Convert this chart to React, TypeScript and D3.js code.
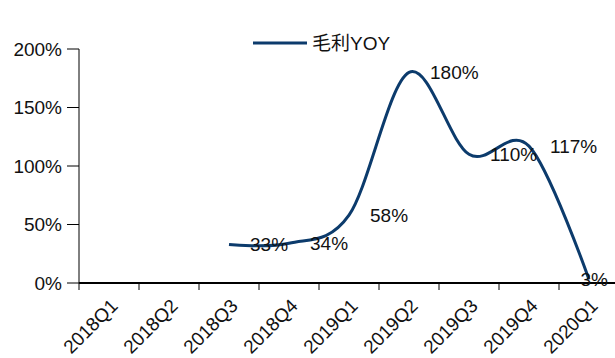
import React from 'react';
import * as d3 from 'd3';

// quarters on the x axis
const quarters: string[] = ['2018Q1', '2018Q2', '2018Q3', '2018Q4', '2019Q1', '2019Q2', '2019Q3', '2019Q4', '2020Q1'];
// gross profit YoY, % (no value for the first two quarters)
const grossYoy: (number | null)[] = [null, null, 33, 34, 58, 180, 110, 117, 3];
const yTicks: number[] = [0, 50, 100, 150, 200];
const seriesName = '毛利YOY';

const W = 615;
const H = 358;
const navy = '#0c3b6c';
const ink = '#111';
const font = '"Liberation Sans", Arial, "Noto Sans CJK SC", sans-serif';

const App: React.FC = () => {
	const margin = { top: 49, left: 79, bottom: 75 };
	const x = d3.scaleBand<string>().domain(quarters).range([margin.left, margin.left + 540]).padding(0);
	const y = d3.scaleLinear().domain([0, 200]).range([H - margin.bottom, margin.top]);
	const cx = (q: string) => (x(q) as number) + x.bandwidth() / 2;

	const pts = quarters
		.map((q, i) => ({ q, v: grossYoy[i] }))
		.filter((d) => d.v !== null) as { q: string; v: number }[];

	const line = d3
		.line<{ q: string; v: number }>()
		.x((d) => cx(d.q))
		.y((d) => y(d.v))
		.curve(d3.curveCardinal.tension(0));

	const fs = 19;
	const plotRight = 608;
	// labels sit right of the point, pushed back inside the plot at the right edge
	const labelX = (d: { q: string; v: number }) => {
		const txt = d.v + '%';
		const w = (txt.length - 1) * 0.556 * fs + 0.889 * fs;
		return Math.min(cx(d.q) + 21, plotRight - w);
	};

	const y0 = y(0);

	return (
		<svg width={W} height={H} style={{ position: 'absolute', left: 0, top: 0, background: '#fff' }} fontFamily={font}>
			{/* y axis */}
			<line x1={margin.left} x2={margin.left} y1={y(200)} y2={y0} stroke="#000" strokeWidth={1} />
			{yTicks.map((t) => (
				<g key={t}>
					<line x1={margin.left - 12} x2={margin.left} y1={y(t)} y2={y(t)} stroke="#000" strokeWidth={1} />
					<text x={62} y={y(t)} dy="0.36em" textAnchor="end" fontSize={fs} fill={ink}>
						{t}%
					</text>
				</g>
			))}

			{/* x axis */}
			<line x1={margin.left} x2={W} y1={y0} y2={y0} stroke="#000" strokeWidth={2} />
			{quarters.map((q) => (
				<g key={q}>
					<line x1={x(q) as number} x2={x(q) as number} y1={y0} y2={y0 + 7} stroke="#000" strokeWidth={1} />
					<text
						transform={`translate(${cx(q) + 10},${y0 + 24}) rotate(-45)`}
						textAnchor="end"
						fontSize={fs}
						fill={ink}
					>
						{q}
					</text>
				</g>
			))}

			<path d={line(pts) as string} fill="none" stroke={navy} strokeWidth={3} />

			{pts.map((d) => (
				<text key={d.q} x={labelX(d)} y={y(d.v)} dy="0.36em" fontSize={fs} fill={ink}>
					{d.v}%
				</text>
			))}

			{/* legend */}
			<line x1={253} x2={307} y1={43} y2={43} stroke={navy} strokeWidth={3} />
			<text x={312} y={50} fontSize={fs} fill={ink}>
				{seriesName}
			</text>
		</svg>
	);
};

export default App;
